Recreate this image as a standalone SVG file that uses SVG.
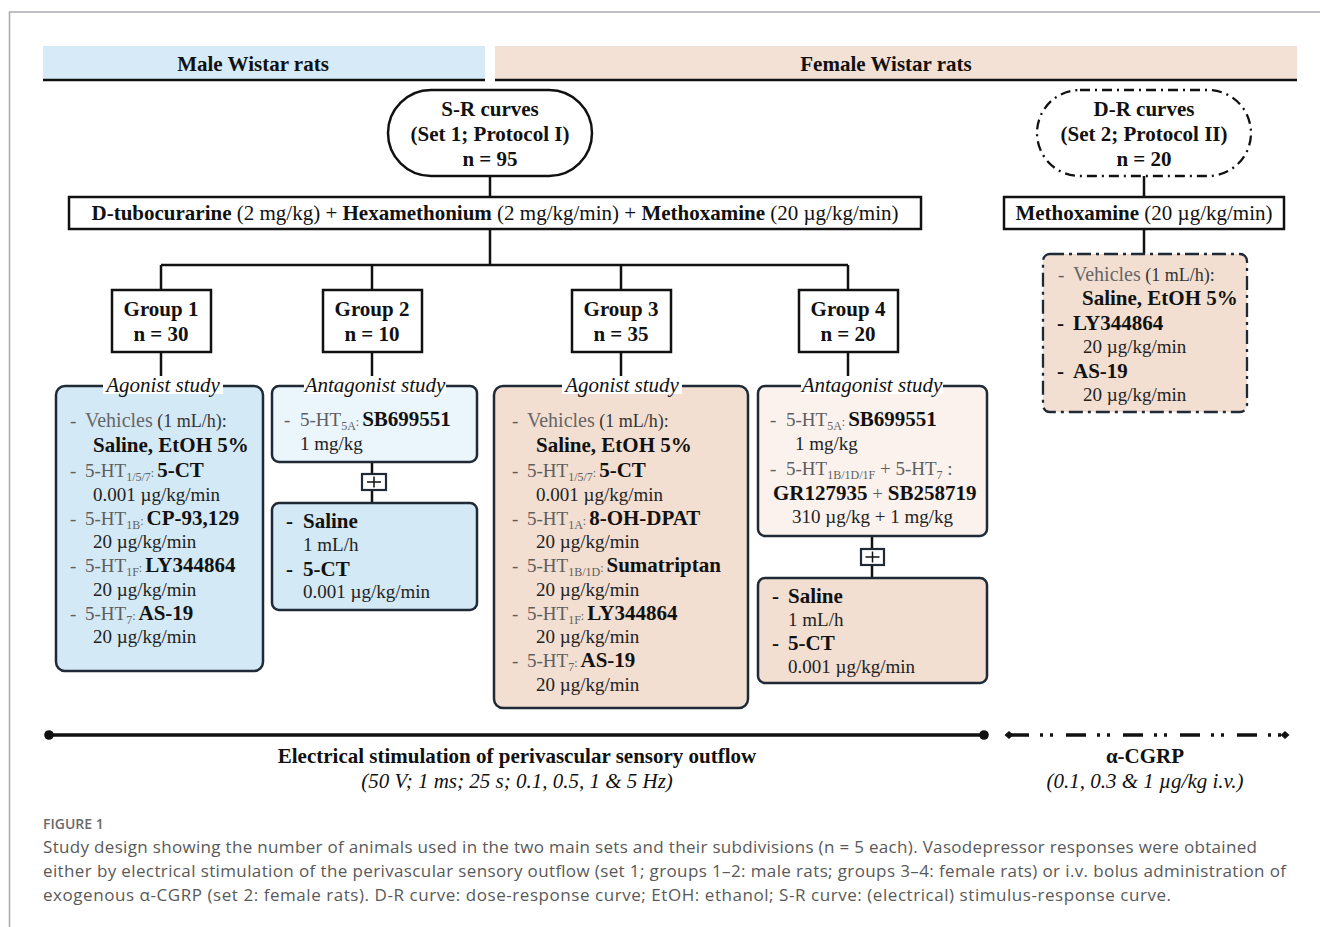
<svg xmlns="http://www.w3.org/2000/svg" width="1320" height="927" viewBox="0 0 1320 927">
<style>
text{font-family:"Liberation Serif","Times New Roman",serif;fill:#111}
.b{font-weight:bold;font-size:21px}
.c{text-anchor:middle}
.n{font-weight:normal}
.r{font-size:19px;fill:#222}
.gy{fill:#5e5e5e}
.vh{font-size:20px;fill:#666}
.dk{font-size:18px;fill:#333}
.bb{font-weight:bold;font-size:21px;fill:#111}
.sb{font-size:12px;fill:#5e5e5e}
.lab{font-style:italic;font-size:21px;text-anchor:middle;fill:#111}
.it{font-style:italic;font-size:21px;text-anchor:middle}
.bx{stroke:#1f2a36;stroke-width:2.5}
.kb{fill:#fff;stroke:#111;stroke-width:2.5}
.ln{stroke:#111;stroke-width:2.5;fill:none}
.cap{font-family:"Open Sans","Noto Sans",sans-serif;font-size:17px;fill:#595959}
</style>
<defs>
<marker id="dia" viewBox="-5 -5 10 10" markerWidth="10" markerHeight="10" refX="0" refY="0" markerUnits="userSpaceOnUse" orient="auto">
<polygon points="-4.5,0 0,-4 4.5,0 0,4" fill="#111"/>
</marker>
</defs>
<rect width="1320" height="927" fill="#fff"/>
<path d="M9.5 927 V12 H1320" fill="none" stroke="#a9a9b2" stroke-width="1.5"/>

<g id="header-male">
<rect x="43" y="46" width="442" height="34" fill="#d6ebf7"/>
<line x1="43" y1="80" x2="485" y2="80" stroke="#111" stroke-width="2.5"/>
<text x="253" y="71" class="b c">Male Wistar rats</text>
</g>
<g id="header-female">
<rect x="495" y="46" width="802" height="34" fill="#f3e1d5"/>
<line x1="495" y1="80" x2="1297" y2="80" stroke="#111" stroke-width="2.5"/>
<text x="886" y="71" class="b c">Female Wistar rats</text>
</g>

<g id="connectors">
<path class="ln" d="M490 176 V197 M490 229 V265 M161 265 H848 M161 265 V290 M372 265 V290 M621 265 V290 M848 265 V290"/>
<path class="ln" d="M161 352 V376 M372 352 V376 M621 352 V376 M848 352 V376"/>
<path class="ln" d="M1144 176 V197 M1144 229 V254"/>
<path class="ln" d="M372 462 V474 M372 490 V503"/>
<path class="ln" d="M872 536 V549 M872 565 V578"/>
</g>

<g id="sr-curves">
<rect x="388" y="90" width="204" height="86" rx="43" class="kb"/>
<text x="490" y="116" class="b c">S-R curves</text>
<text x="490" y="141" class="b c">(Set 1; Protocol I)</text>
<text x="490" y="166" class="b c">n = 95</text>
</g>
<g id="dr-curves">
<rect x="1037" y="90" width="214" height="86" rx="43" fill="#fff" stroke="#111" stroke-width="2.3" stroke-dasharray="10 5 2 5"/>
<text x="1144" y="116" class="b c">D-R curves</text>
<text x="1144" y="141" class="b c">(Set 2; Protocol II)</text>
<text x="1144" y="166" class="b c">n = 20</text>
</g>

<g id="drugs-set1">
<rect x="69" y="197" width="852" height="32" class="kb"/>
<text x="495" y="220" class="b c">D-tubocurarine<tspan class="n"> (2 mg/kg) + </tspan>Hexamethonium<tspan class="n"> (2 mg/kg/min) + </tspan>Methoxamine<tspan class="n"> (20 µg/kg/min)</tspan></text>
</g>
<g id="drugs-set2">
<rect x="1004" y="197" width="280" height="32" class="kb"/>
<text x="1144" y="220" class="b c">Methoxamine<tspan class="n"> (20 µg/kg/min)</tspan></text>
</g>

<g id="group1">
<rect x="112" y="290" width="99" height="62" class="kb"/>
<text x="161" y="316" class="b c">Group 1</text>
<text x="161" y="341" class="b c">n = 30</text>
</g>
<g id="group2">
<rect x="323" y="290" width="99" height="62" class="kb"/>
<text x="372" y="316" class="b c">Group 2</text>
<text x="372" y="341" class="b c">n = 10</text>
</g>
<g id="group3">
<rect x="572" y="290" width="99" height="62" class="kb"/>
<text x="621" y="316" class="b c">Group 3</text>
<text x="621" y="341" class="b c">n = 35</text>
</g>
<g id="group4">
<rect x="799" y="290" width="99" height="62" class="kb"/>
<text x="848" y="316" class="b c">Group 4</text>
<text x="848" y="341" class="b c">n = 20</text>
</g>

<g id="g1-agonist">
<rect x="56" y="386" width="207" height="285" rx="9" class="bx" fill="#d3e9f6"/>
<rect x="103" y="379" width="120" height="15" fill="#fff"/>
<text x="163" y="392" class="lab">Agonist study</text>
<text y="427" class="r"><tspan x="70" class="gy">-</tspan><tspan x="85" class="vh">Vehicles</tspan><tspan class="dk"> (1 mL/h):</tspan></text>
<text x="93" y="452" class="b">Saline, EtOH 5%</text>
<text y="477" class="r"><tspan x="70" class="gy">-</tspan><tspan x="85" class="gy">5-HT</tspan><tspan class="sb" dy="4">1/5/7</tspan><tspan class="sb" dy="-4">: </tspan><tspan class="bb">5-CT</tspan></text>
<text x="93" y="501" class="r">0.001 µg/kg/min</text>
<text y="525" class="r"><tspan x="70" class="gy">-</tspan><tspan x="85" class="gy">5-HT</tspan><tspan class="sb" dy="4">1B</tspan><tspan class="sb" dy="-4">: </tspan><tspan class="bb">CP-93,129</tspan></text>
<text x="93" y="548" class="r">20 µg/kg/min</text>
<text y="572" class="r"><tspan x="70" class="gy">-</tspan><tspan x="85" class="gy">5-HT</tspan><tspan class="sb" dy="4">1F</tspan><tspan class="sb" dy="-4">: </tspan><tspan class="bb">LY344864</tspan></text>
<text x="93" y="596" class="r">20 µg/kg/min</text>
<text y="620" class="r"><tspan x="70" class="gy">-</tspan><tspan x="85" class="gy">5-HT</tspan><tspan class="sb" dy="4">7</tspan><tspan class="sb" dy="-4">: </tspan><tspan class="bb">AS-19</tspan></text>
<text x="93" y="643" class="r">20 µg/kg/min</text>
</g>

<g id="g2-antagonist">
<rect x="272" y="386" width="205" height="76" rx="7" class="bx" fill="#eaf5fc"/>
<rect x="304" y="379" width="142" height="15" fill="#fff"/>
<text x="375" y="392" class="lab">Antagonist study</text>
<text y="426" class="r"><tspan x="284" class="gy">-</tspan><tspan x="300" class="gy">5-HT</tspan><tspan class="sb" dy="4">5A</tspan><tspan class="sb" dy="-4">: </tspan><tspan class="bb">SB699551</tspan></text>
<text x="300" y="450" class="r">1 mg/kg</text>
</g>
<g id="g2-plus">
<rect x="362" y="474" width="24" height="16" fill="#fff" stroke="#1f2a36" stroke-width="2.2"/>
<path d="M367 482 H381 M374 476.5 V487.5" stroke="#111" stroke-width="1.5"/>
</g>
<g id="g2-treatment">
<rect x="272" y="503" width="205" height="107" rx="7" class="bx" fill="#d3e9f6"/>
<text y="528" class="b"><tspan x="286">-</tspan><tspan x="303">Saline</tspan></text>
<text x="303" y="551" class="r">1 mL/h</text>
<text y="576" class="b"><tspan x="286">-</tspan><tspan x="303">5-CT</tspan></text>
<text x="303" y="598" class="r">0.001 µg/kg/min</text>
</g>

<g id="g3-agonist">
<rect x="494" y="386" width="254" height="322" rx="9" class="bx" fill="#f2dfd2"/>
<rect x="562" y="379" width="120" height="15" fill="#fff"/>
<text x="622" y="392" class="lab">Agonist study</text>
<text y="427" class="r"><tspan x="512" class="gy">-</tspan><tspan x="527" class="vh">Vehicles</tspan><tspan class="dk"> (1 mL/h):</tspan></text>
<text x="536" y="452" class="b">Saline, EtOH 5%</text>
<text y="477" class="r"><tspan x="512" class="gy">-</tspan><tspan x="527" class="gy">5-HT</tspan><tspan class="sb" dy="4">1/5/7</tspan><tspan class="sb" dy="-4">: </tspan><tspan class="bb">5-CT</tspan></text>
<text x="536" y="501" class="r">0.001 µg/kg/min</text>
<text y="525" class="r"><tspan x="512" class="gy">-</tspan><tspan x="527" class="gy">5-HT</tspan><tspan class="sb" dy="4">1A</tspan><tspan class="sb" dy="-4">: </tspan><tspan class="bb">8-OH-DPAT</tspan></text>
<text x="536" y="548" class="r">20 µg/kg/min</text>
<text y="572" class="r"><tspan x="512" class="gy">-</tspan><tspan x="527" class="gy">5-HT</tspan><tspan class="sb" dy="4">1B/1D</tspan><tspan class="sb" dy="-4">: </tspan><tspan class="bb">Sumatriptan</tspan></text>
<text x="536" y="596" class="r">20 µg/kg/min</text>
<text y="620" class="r"><tspan x="512" class="gy">-</tspan><tspan x="527" class="gy">5-HT</tspan><tspan class="sb" dy="4">1F</tspan><tspan class="sb" dy="-4">: </tspan><tspan class="bb">LY344864</tspan></text>
<text x="536" y="643" class="r">20 µg/kg/min</text>
<text y="667" class="r"><tspan x="512" class="gy">-</tspan><tspan x="527" class="gy">5-HT</tspan><tspan class="sb" dy="4">7</tspan><tspan class="sb" dy="-4">: </tspan><tspan class="bb">AS-19</tspan></text>
<text x="536" y="691" class="r">20 µg/kg/min</text>
</g>

<g id="g4-antagonist">
<rect x="758" y="386" width="229" height="150" rx="7" class="bx" fill="#fbf2ed"/>
<rect x="801" y="379" width="142" height="15" fill="#fff"/>
<text x="872" y="392" class="lab">Antagonist study</text>
<text y="426" class="r"><tspan x="770" class="gy">-</tspan><tspan x="786" class="gy">5-HT</tspan><tspan class="sb" dy="4">5A</tspan><tspan class="sb" dy="-4">: </tspan><tspan class="bb">SB699551</tspan></text>
<text x="795" y="450" class="r">1 mg/kg</text>
<text y="475" class="r"><tspan x="770" class="gy">-</tspan><tspan x="786" class="gy">5-HT</tspan><tspan class="sb" dy="4">1B/1D/1F</tspan><tspan class="gy" dy="-4"> + 5-HT</tspan><tspan class="sb" dy="4">7</tspan><tspan class="gy" dy="-4"> :</tspan></text>
<text x="773" y="500" class="b">GR127935<tspan class="n gy" font-size="19"> + </tspan>SB258719</text>
<text x="792" y="523" class="r">310 µg/kg + 1 mg/kg</text>
</g>
<g id="g4-plus">
<rect x="861" y="549" width="23" height="16" fill="#fff" stroke="#1f2a36" stroke-width="2.2"/>
<path d="M865.5 557 H879.5 M872.5 551.5 V562.5" stroke="#111" stroke-width="1.5"/>
</g>
<g id="g4-treatment">
<rect x="758" y="578" width="229" height="105" rx="7" class="bx" fill="#f2dfd2"/>
<text y="603" class="b"><tspan x="772">-</tspan><tspan x="788">Saline</tspan></text>
<text x="788" y="626" class="r">1 mL/h</text>
<text y="650" class="b"><tspan x="772">-</tspan><tspan x="788">5-CT</tspan></text>
<text x="788" y="673" class="r">0.001 µg/kg/min</text>
</g>

<g id="set2-treatments">
<rect x="1043" y="254" width="204" height="158" rx="7" fill="#f2dfd2" stroke="#1f2a36" stroke-width="2.3" stroke-dasharray="14 5 3 5"/>
<text y="281" class="r"><tspan x="1058" class="gy">-</tspan><tspan x="1073" class="vh">Vehicles</tspan><tspan class="dk"> (1 mL/h):</tspan></text>
<text x="1082" y="305" class="b">Saline, EtOH 5%</text>
<text y="330" class="b"><tspan x="1057">-</tspan><tspan x="1073">LY344864</tspan></text>
<text x="1083" y="353" class="r">20 µg/kg/min</text>
<text y="378" class="b"><tspan x="1057">-</tspan><tspan x="1073">AS-19</tspan></text>
<text x="1083" y="401" class="r">20 µg/kg/min</text>
</g>

<g id="timeline-electrical">
<line x1="49" y1="735" x2="984" y2="735" stroke="#111" stroke-width="3.5"/>
<circle cx="49" cy="735" r="4.8" fill="#111"/>
<circle cx="984" cy="735" r="4.8" fill="#111"/>
<text x="517" y="763" class="b c">Electrical stimulation of perivascular sensory outflow</text>
<text x="517" y="788" class="it">(50 V; 1 ms; 25 s; 0.1, 0.5, 1 &amp; 5 Hz)</text>
</g>
<g id="timeline-cgrp">
<line x1="1009" y1="735" x2="1285" y2="735" stroke="#111" stroke-width="3.5" stroke-dasharray="20 11 3 7 3 13" marker-start="url(#dia)" marker-end="url(#dia)"/>
<text x="1145" y="763" class="b c">α-CGRP</text>
<text x="1145" y="788" class="it">(0.1, 0.3 &amp; 1 µg/kg i.v.)</text>
</g>

<g id="caption">
<text x="43" y="829" class="cap" style="font-size:14px;font-weight:600;fill:#6a6a6a">FIGURE 1</text>
<text x="43" y="853" class="cap" textLength="1214" lengthAdjust="spacing">Study design showing the number of animals used in the two main sets and their subdivisions (n = 5 each). Vasodepressor responses were obtained</text>
<text x="43" y="877" class="cap" textLength="1243" lengthAdjust="spacing">either by electrical stimulation of the perivascular sensory outflow (set 1; groups 1–2: male rats; groups 3–4: female rats) or i.v. bolus administration of</text>
<text x="43" y="901" class="cap" textLength="1128" lengthAdjust="spacing">exogenous α-CGRP (set 2: female rats). D-R curve: dose-response curve; EtOH: ethanol; S-R curve: (electrical) stimulus-response curve.</text>
</g>
</svg>
